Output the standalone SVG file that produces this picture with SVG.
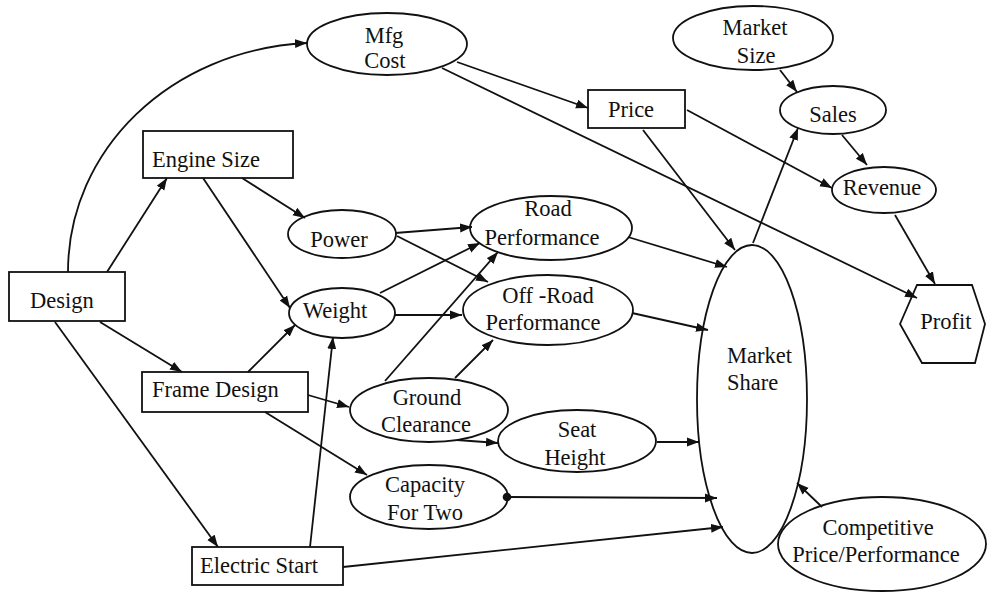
<svg xmlns="http://www.w3.org/2000/svg" width="987" height="594" viewBox="0 0 987 594">
  <style>
    .shape { fill: #fff; stroke: #111; stroke-width: 1.8; }
    .edge { fill: none; stroke: #111; stroke-width: 1.8; marker-end: url(#arrow); }
    text { font-family: "Liberation Serif", "Times New Roman", serif; font-size: 22.5px; fill: #111; }
    .c { text-anchor: middle; }
  </style>
  <defs>
    <marker id="arrow" markerUnits="userSpaceOnUse" markerWidth="13" markerHeight="10" refX="12" refY="5" orient="auto">
      <path d="M0,0.5 L12,5 L0,9.5 z" fill="#111"/>
    </marker>
  </defs>
  <rect width="987" height="594" fill="#fff"/>

  <!-- nodes -->
  <g id="design">
    <rect class="shape" x="9" y="272" width="116" height="49"/>
    <text x="30" y="308">Design</text>
  </g>
  <g id="engine-size">
    <rect class="shape" x="143" y="131" width="150" height="47"/>
    <text x="152" y="167">Engine Size</text>
  </g>
  <g id="frame-design">
    <rect class="shape" x="142" y="372" width="166" height="40"/>
    <text x="152" y="397">Frame Design</text>
  </g>
  <g id="electric-start">
    <rect class="shape" x="192" y="547" width="151" height="38"/>
    <text x="200" y="573">Electric Start</text>
  </g>
  <g id="mfg-cost">
    <ellipse class="shape" cx="387" cy="44" rx="80" ry="31"/>
    <text class="c" x="384" y="43">Mfg</text>
    <text class="c" x="385" y="68">Cost</text>
  </g>
  <g id="price">
    <rect class="shape" x="588" y="90" width="97" height="38"/>
    <text class="c" x="631" y="117">Price</text>
  </g>
  <g id="power">
    <ellipse class="shape" cx="342" cy="234" rx="54" ry="24"/>
    <text class="c" x="339" y="247">Power</text>
  </g>
  <g id="weight">
    <ellipse class="shape" cx="342" cy="313" rx="53" ry="25"/>
    <text class="c" x="335" y="318">Weight</text>
  </g>
  <g id="road-performance">
    <ellipse class="shape" cx="551" cy="228" rx="81" ry="32"/>
    <text class="c" x="548" y="216">Road</text>
    <text class="c" x="542" y="245">Performance</text>
  </g>
  <g id="off-road-performance">
    <ellipse class="shape" cx="548" cy="310" rx="85" ry="35"/>
    <text class="c" x="548" y="303">Off -Road</text>
    <text class="c" x="543" y="330">Performance</text>
  </g>
  <g id="ground-clearance">
    <ellipse class="shape" cx="429" cy="410" rx="79" ry="32"/>
    <text class="c" x="427" y="405">Ground</text>
    <text class="c" x="426" y="432">Clearance</text>
  </g>
  <g id="seat-height">
    <ellipse class="shape" cx="577" cy="441" rx="79" ry="31"/>
    <text class="c" x="577" y="437">Seat</text>
    <text class="c" x="575" y="465">Height</text>
  </g>
  <g id="capacity-for-two">
    <ellipse class="shape" cx="429" cy="497" rx="79" ry="32"/>
    <text class="c" x="425" y="492">Capacity</text>
    <text class="c" x="425" y="520">For Two</text>
  </g>
  <g id="market-share">
    <ellipse class="shape" cx="752" cy="399" rx="55" ry="154"/>
    <text x="727" y="363">Market</text>
    <text x="727" y="390">Share</text>
  </g>
  <g id="competitive-price-performance">
    <ellipse class="shape" cx="882" cy="544" rx="104" ry="47"/>
    <text class="c" x="878" y="535">Competitive</text>
    <text class="c" x="876" y="562">Price/Performance</text>
  </g>
  <g id="market-size">
    <ellipse class="shape" cx="753" cy="38" rx="80" ry="32"/>
    <text class="c" x="755" y="35">Market</text>
    <text class="c" x="756" y="63">Size</text>
  </g>
  <g id="sales">
    <ellipse class="shape" cx="833" cy="110" rx="53" ry="24"/>
    <text class="c" x="833" y="122">Sales</text>
  </g>
  <g id="revenue">
    <ellipse class="shape" cx="884" cy="190" rx="52" ry="23"/>
    <text class="c" x="882" y="195">Revenue</text>
  </g>
  <g id="profit">
    <polygon class="shape" points="900,324 917,285 972,285 985,324 975,363 922,363"/>
    <text class="c" x="946" y="329">Profit</text>
  </g>

  <!-- connectors, drawn above the node outlines -->
  <g id="connectors">
    <path class="edge" d="M68,272 C68,150 170,50 307,43"/>
    <path class="edge" d="M107,272 L167,178"/>
    <path class="edge" d="M100,322 L182,372"/>
    <path class="edge" d="M55,322 L218,547"/>
    <path class="edge" d="M242,178 L305,218"/>
    <path class="edge" d="M203,178 L290,308"/>
    <path class="edge" d="M248,372 L295,325"/>
    <path class="edge" d="M308,395 L349,407"/>
    <path class="edge" d="M265,412 L367,475"/>
    <path class="edge" d="M310,547 L333,337"/>
    <path class="edge" d="M343,567 L723,527"/>
    <path class="edge" d="M395,233 L472,227"/>
    <path class="edge" d="M397,236 L488,282"/>
    <path class="edge" d="M380,293 L480,243"/>
    <path class="edge" d="M395,315 L462,315"/>
    <path class="edge" d="M385,381 L498,252"/>
    <path class="edge" d="M455,378 L493,340"/>
    <path class="edge" d="M457,440 L498,443"/>
    <path class="edge" d="M507,497 L717,498"/>
    <circle cx="507" cy="497" r="4.3" fill="#111"/>
    <path class="edge" d="M657,442 L699,442"/>
    <path class="edge" d="M632,313 L708,330"/>
    <path class="edge" d="M628,237 L727,267"/>
    <path class="edge" d="M643,130 L735,250"/>
    <path class="edge" d="M457,62 L588,108"/>
    <path class="edge" d="M442,68 L917,298"/>
    <path class="edge" d="M687,110 L832,188"/>
    <path class="edge" d="M753,243 L798,128"/>
    <path class="edge" d="M780,70 L797,92"/>
    <path class="edge" d="M842,135 L867,165"/>
    <path class="edge" d="M895,215 L935,284"/>
    <path class="edge" d="M822,507 L797,483"/>
  </g>
</svg>
